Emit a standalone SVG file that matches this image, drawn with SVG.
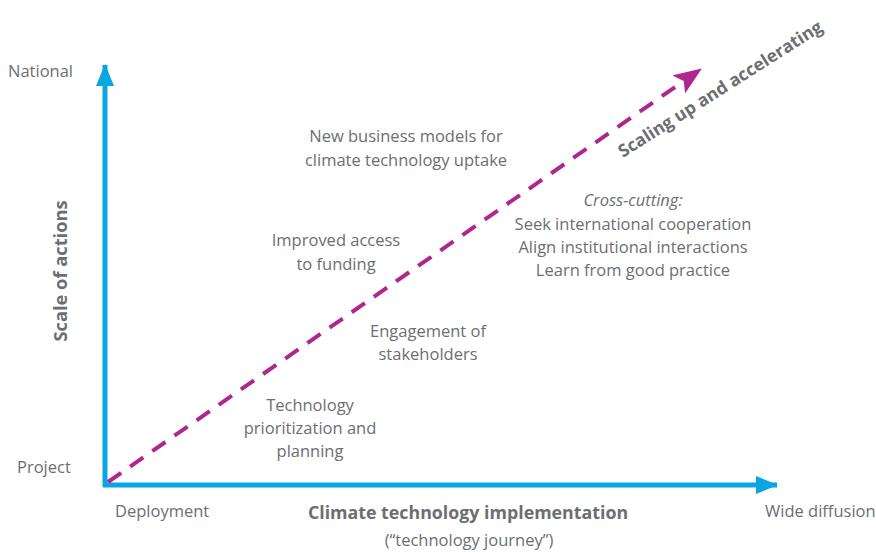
<svg xmlns="http://www.w3.org/2000/svg" width="876" height="552" viewBox="0 0 876 552">
  <defs>
    <marker id="blueHead" markerWidth="22" markerHeight="18" refX="21" refY="9" orient="auto" markerUnits="userSpaceOnUse">
      <polygon points="0,0 22,9 0,18" fill="#0aa5e3"/>
    </marker>
    <marker id="magHead" markerWidth="28" markerHeight="22" refX="27" refY="11" orient="auto" markerUnits="userSpaceOnUse">
      <polygon points="0,0 28,11 0,22 6,11" fill="#b0268f"/>
    </marker>
  </defs>
  <style>
    text { font-family: "Open Sans", "Noto Sans", "Liberation Sans", sans-serif; fill: #6d6e71; font-size: 16.5px; }
    .c { text-anchor: middle; }
    .b { font-weight: bold; }
    .title { font-size: 17.8px; }
    .ytitle { font-size: 18.3px; }
    .diag { font-size: 17.5px; }
    .axis { stroke: #0aa5e3; stroke-width: 5; fill: none; }
    .dash { stroke: #b0268f; stroke-width: 4; fill: none; stroke-dasharray: 16 11; }
  </style>
  <rect width="876" height="552" fill="#ffffff"/>
  <g id="connectors">
    <path class="axis" d="M105,487 L105,65" marker-end="url(#blueHead)"/>
    <path class="axis" d="M103,485 L777,485" marker-end="url(#blueHead)"/>
    <path class="dash" d="M108,482 L701,69" marker-end="url(#magHead)"/>
  </g>
  <g id="axis-labels">
    <text x="8" y="77">National</text>
    <text x="17" y="473">Project</text>
    <text x="115" y="517">Deployment</text>
    <text x="765" y="517">Wide diffusion</text>
    <text class="c b title" x="468" y="519">Climate technology implementation</text>
    <text class="c" x="469" y="546">(“technology journey”)</text>
    <text class="c b ytitle" transform="translate(67,271) rotate(-90)">Scale of actions</text>
    <text class="b diag" transform="translate(623,158) rotate(-32.5)">Scaling up and accelerating</text>
  </g>
  <g id="node-business">
    <text class="c" x="406" y="142">New business models for</text>
    <text class="c" x="406" y="166">climate technology uptake</text>
  </g>
  <g id="node-funding">
    <text class="c" x="336" y="246">Improved access</text>
    <text class="c" x="336" y="270">to funding</text>
  </g>
  <g id="node-crosscutting">
    <text class="c" x="633" y="206" font-style="italic">Cross-cutting:</text>
    <text class="c" x="633" y="230">Seek international cooperation</text>
    <text class="c" x="633" y="253">Align institutional interactions</text>
    <text class="c" x="633" y="276">Learn from good practice</text>
  </g>
  <g id="node-stakeholders">
    <text class="c" x="428" y="337">Engagement of</text>
    <text class="c" x="428" y="360">stakeholders</text>
  </g>
  <g id="node-prioritization">
    <text class="c" x="310" y="411">Technology</text>
    <text class="c" x="310" y="434">prioritization and</text>
    <text class="c" x="310" y="457">planning</text>
  </g>
</svg>
